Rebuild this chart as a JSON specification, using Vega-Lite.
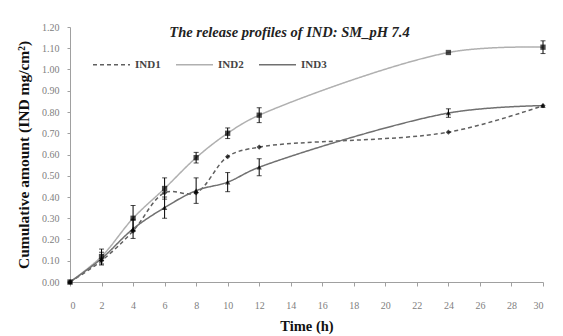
{
  "$schema": "https://vega.github.io/schema/vega-lite/v6.json",
  "width": 473,
  "height": 255,
  "autosize": {"type": "none"},
  "padding": {"left": 70, "top": 27, "right": 20, "bottom": 54},
  "background": "white",
  "title": {
    "text": "The release profiles of IND: SM_pH 7.4",
    "font": "Liberation Serif",
    "fontSize": 14.5,
    "fontStyle": "italic",
    "fontWeight": "bold",
    "color": "#222222",
    "anchor": "middle",
    "dx": -17,
    "dy": 17,
    "offset": -12,
    "baseline": "alphabetic"
  },
  "data": {
    "values": [
      {"t": 0, "series": "IND1", "v": 0.0, "err": 0},
      {"t": 2, "series": "IND1", "v": 0.10, "err": 0},
      {"t": 4, "series": "IND1", "v": 0.24, "err": 0},
      {"t": 6, "series": "IND1", "v": 0.42, "err": 0},
      {"t": 8, "series": "IND1", "v": 0.42, "err": 0},
      {"t": 10, "series": "IND1", "v": 0.59, "err": 0},
      {"t": 12, "series": "IND1", "v": 0.635, "err": 0},
      {"t": 24, "series": "IND1", "v": 0.705, "err": 0},
      {"t": 30, "series": "IND1", "v": 0.83, "err": 0},
      {"t": 0, "series": "IND2", "v": 0.0, "err": 0},
      {"t": 2, "series": "IND2", "v": 0.12, "err": 0.035},
      {"t": 4, "series": "IND2", "v": 0.30, "err": 0.06},
      {"t": 6, "series": "IND2", "v": 0.44, "err": 0.05},
      {"t": 8, "series": "IND2", "v": 0.585, "err": 0.025},
      {"t": 10, "series": "IND2", "v": 0.70, "err": 0.025},
      {"t": 12, "series": "IND2", "v": 0.785, "err": 0.035},
      {"t": 24, "series": "IND2", "v": 1.08, "err": 0},
      {"t": 30, "series": "IND2", "v": 1.105, "err": 0.03},
      {"t": 0, "series": "IND3", "v": 0.0, "err": 0},
      {"t": 2, "series": "IND3", "v": 0.11, "err": 0.03},
      {"t": 4, "series": "IND3", "v": 0.25, "err": 0.045},
      {"t": 6, "series": "IND3", "v": 0.35, "err": 0.05},
      {"t": 8, "series": "IND3", "v": 0.43, "err": 0.06},
      {"t": 10, "series": "IND3", "v": 0.47, "err": 0.045},
      {"t": 12, "series": "IND3", "v": 0.54, "err": 0.04},
      {"t": 24, "series": "IND3", "v": 0.795, "err": 0.02},
      {"t": 30, "series": "IND3", "v": 0.83, "err": 0}
    ]
  },
  "encoding": {
    "x": {
      "field": "t",
      "type": "quantitative",
      "scale": {"domain": [0, 30], "nice": false},
      "axis": {
        "title": "Time (h)",
        "values": [0, 2, 4, 6, 8, 10, 12, 14, 16, 18, 20, 22, 24, 26, 28, 30],
        "grid": false,
        "labelPadding": 14,
        "tickSize": 4,
        "titlePadding": 9,
        "titleFontSize": 14.5
      }
    },
    "y": {
      "field": "v",
      "type": "quantitative",
      "scale": {"domain": [0, 1.2], "nice": false},
      "axis": {
        "title": "Cumulative amount (IND mg/cm²)",
        "values": [0, 0.1, 0.2, 0.3, 0.4, 0.5, 0.6, 0.7, 0.8, 0.9, 1.0, 1.1, 1.2],
        "format": ".2f",
        "grid": false,
        "labelPadding": 8,
        "tickSize": 3,
        "titlePadding": 10,
        "titleFontSize": 15.5
      }
    }
  },
  "layer": [
    {
      "mark": {"type": "line", "interpolate": "catmull-rom", "strokeWidth": 1.5},
      "encoding": {
        "color": {
          "field": "series",
          "type": "nominal",
          "scale": {"domain": ["IND1", "IND2", "IND3"], "range": ["#606060", "#b0b0b0", "#707070"]},
          "legend": {
            "title": null,
            "orient": "none",
            "legendX": 22,
            "legendY": 18,
            "direction": "horizontal",
            "padding": 0,
            "columnPadding": 12,
            "labelOffset": 4,
            "symbolType": "stroke",
            "symbolSize": 1369,
            "symbolStrokeWidth": 1.5,
            "labelFont": "Liberation Serif",
            "labelFontSize": 11,
            "labelFontWeight": "bold",
            "labelColor": "#444444"
          }
        },
        "strokeDash": {
          "field": "series",
          "type": "nominal",
          "scale": {"domain": ["IND1", "IND2", "IND3"], "range": [[4, 3], [1, 0], [1, 0]]},
          "legend": {
            "title": null,
            "orient": "none",
            "legendX": 22,
            "legendY": 18,
            "direction": "horizontal",
            "padding": 0,
            "columnPadding": 12,
            "labelOffset": 4,
            "symbolType": "stroke",
            "symbolSize": 1369,
            "symbolStrokeWidth": 1.5,
            "labelFont": "Liberation Serif",
            "labelFontSize": 11,
            "labelFontWeight": "bold",
            "labelColor": "#444444"
          }
        }
      }
    },
    {
      "transform": [{"filter": "datum.err > 0"}],
      "mark": {"type": "errorbar", "ticks": {"color": "#000000"}, "rule": {"color": "#000000", "strokeWidth": 1}, "color": "#000000"},
      "encoding": {
        "yError": {"field": "err"}
      }
    },
    {
      "mark": {"type": "point", "filled": true, "color": "#000000", "size": 28},
      "encoding": {
        "shape": {
          "field": "series",
          "type": "nominal",
          "scale": {"range": ["diamond", "square", "triangle-up"]},
          "legend": null
        }
      }
    }
  ],
  "config": {
    "view": {"stroke": null},
    "axis": {
      "domainColor": "#a0a0a0",
      "tickColor": "#a0a0a0",
      "labelColor": "#808080",
      "labelFont": "Liberation Serif",
      "labelFontSize": 10,
      "titleFont": "Liberation Serif",
      "titleFontSize": 12,
      "titleFontWeight": "bold",
      "titleColor": "#111111"
    }
  }
}
